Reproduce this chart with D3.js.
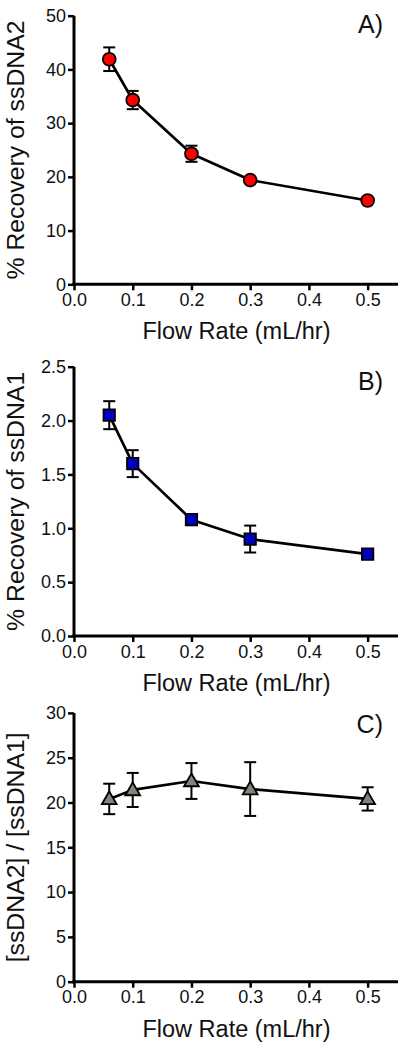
<!DOCTYPE html>
<html>
<head>
<meta charset="utf-8">
<script src="https://cdn.jsdelivr.net/npm/d3@7/dist/d3.min.js"></script>
<style>
  html, body { margin: 0; padding: 0; background: #fff; }
  svg { display: block; font-family: "Liberation Sans", Arial, sans-serif; }
</style>
</head>
<body>
<svg id="chart" width="403" height="1050"></svg>
<script>
// ---- data ----
const flowRates = [0.06, 0.1, 0.2, 0.3, 0.5];
const xTicks = [0.0, 0.1, 0.2, 0.3, 0.4, 0.5];

const recoverySsDNA2 = [41.9, 34.3, 24.3, 19.4, 15.6];
const recoverySsDNA2Err = [2.2, 1.7, 1.5, 0.4, 0.4];
const yTicksA = [0, 10, 20, 30, 40, 50];

const recoverySsDNA1 = [2.05, 1.60, 1.08, 0.90, 0.76];
const recoverySsDNA1Err = [0.13, 0.125, 0.05, 0.125, 0.03];
const yTicksB = [0.0, 0.5, 1.0, 1.5, 2.0, 2.5];

const ratioSsDNA = [20.4, 21.4, 22.4, 21.5, 20.4];
const ratioSsDNAErr = [1.7, 1.9, 2.0, 3.0, 1.3];
const yTicksC = [0, 5, 10, 15, 20, 25, 30];

const xTitle = "Flow Rate (mL/hr)";

// ---- layout ----
const svg = d3.select("#chart");
const xLeft = 74, xRight = 397;
const x = d3.scaleLinear().domain([0, 0.55]).range([xLeft, xRight]);

const panels = [
  { label: "A)", yTitle: "% Recovery of ssDNA2", values: recoverySsDNA2, errs: recoverySsDNA2Err,
    ticks: yTicksA, fmt: d3.format("d"), top: 15.7, bottom: 284.3, labelY: 33,
    marker: "circle", fill: "#ff0000" },
  { label: "B)", yTitle: "% Recovery of ssDNA1", values: recoverySsDNA1, errs: recoverySsDNA1Err,
    ticks: yTicksB, fmt: d3.format(".1f"), top: 366.7, bottom: 636, labelY: 390,
    marker: "square", fill: "#0000c0" },
  { label: "C)", yTitle: "[ssDNA2] / [ssDNA1]", values: ratioSsDNA, errs: ratioSsDNAErr,
    ticks: yTicksC, fmt: d3.format("d"), top: 712.9, bottom: 981.7, labelY: 733,
    marker: "triangle", fill: "#878078" }
];

panels.forEach(p => {
  const y = d3.scaleLinear()
    .domain([p.ticks[0], p.ticks[p.ticks.length - 1]])
    .range([p.bottom, p.top]);
  const g = svg.append("g");

  // y axis
  const ya = g.append("g")
    .attr("transform", `translate(${xLeft},0)`)
    .call(d3.axisLeft(y).tickValues(p.ticks).tickFormat(p.fmt).tickSize(6).tickSizeOuter(0).tickPadding(2));
  // x axis
  const xa = g.append("g")
    .attr("transform", `translate(0,${p.bottom})`)
    .call(d3.axisBottom(x).tickValues(xTicks).tickFormat(d3.format(".1f")).tickSize(6).tickSizeOuter(0).tickPadding(3));

  [ya, xa].forEach(a => {
    a.select(".domain").attr("stroke", "#000").attr("stroke-width", 3);
    a.selectAll(".tick line").attr("stroke", "#000").attr("stroke-width", 2.5);
    a.selectAll(".tick text").attr("fill", "#111").attr("font-size", 18)
      .attr("font-family", "'Liberation Sans', Arial, sans-serif");
  });
  xa.select(".domain").attr("d", `M${xLeft - 1.5},0H${xRight + 1}`);
  ya.select(".domain").attr("d", `M0,${p.bottom + 1.5}V${p.top}`);

  // axis titles
  g.append("text")
    .attr("x", (xLeft + xRight) / 2 + 1)
    .attr("y", p.bottom + 55)
    .attr("text-anchor", "middle")
    .attr("font-size", 23.5)
    .attr("fill", "#111")
    .text(xTitle);

  g.append("text")
    .attr("transform", `translate(24,${(p.top + p.bottom) / 2}) rotate(-90)`)
    .attr("text-anchor", "middle")
    .attr("font-size", 24.8)
    .attr("fill", "#111")
    .text(p.yTitle);

  // panel label
  g.append("text")
    .attr("x", 383)
    .attr("y", p.labelY)
    .attr("text-anchor", "end")
    .attr("font-size", 25)
    .attr("fill", "#111")
    .text(p.label);

  const pts = flowRates.map((f, i) => ({ f, v: p.values[i], e: p.errs[i] }));

  // error bars
  const eb = g.append("g").attr("stroke", "#000").attr("stroke-width", 2).attr("fill", "none");
  pts.forEach(d => {
    const cx = x(d.f), y1 = y(d.v + d.e), y2 = y(d.v - d.e);
    eb.append("line").attr("x1", cx).attr("x2", cx).attr("y1", y1).attr("y2", y2);
    eb.append("line").attr("x1", cx - 6).attr("x2", cx + 6).attr("y1", y1).attr("y2", y1);
    eb.append("line").attr("x1", cx - 6).attr("x2", cx + 6).attr("y1", y2).attr("y2", y2);
  });

  // connecting line
  g.append("path")
    .datum(pts)
    .attr("fill", "none")
    .attr("stroke", "#000")
    .attr("stroke-width", 2.7)
    .attr("stroke-linejoin", "round")
    .attr("d", d3.line().x(d => x(d.f)).y(d => y(d.v)));

  // markers
  const symType = p.marker === "circle" ? d3.symbolCircle : p.marker === "square" ? d3.symbolSquare : d3.symbolTriangle;
  const symSize = p.marker === "circle" ? 130 : p.marker === "square" ? 130 : 95;
  g.append("g").selectAll("path")
    .data(pts)
    .join("path")
    .attr("transform", d => `translate(${x(d.f)},${y(d.v) + (p.marker === "triangle" ? 1 : 0)})`)
    .attr("d", d3.symbol().type(symType).size(symSize))
    .attr("fill", p.fill)
    .attr("stroke", "#000")
    .attr("stroke-width", 1.8);
});
</script>
</body>
</html>
